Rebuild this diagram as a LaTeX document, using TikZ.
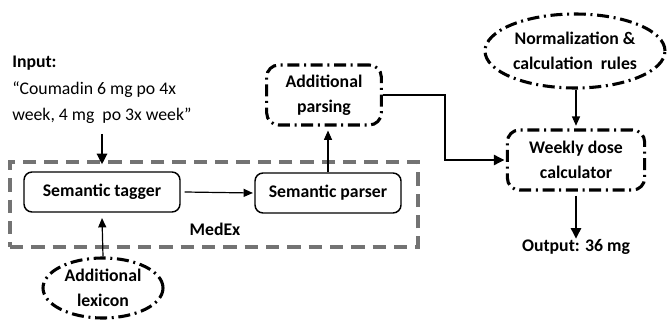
\documentclass[tikz,border=0pt]{standalone}
\usepackage{fontspec}
\setmainfont{Carlito}
\usetikzlibrary{arrows.meta,shapes.geometric}

\newcommand{\figfont}{\fontsize{13.3}{19}\selectfont}

\tikzset{
  box/.style={draw, rounded corners=6pt, line width=1.1pt, font=\figfont\bfseries},
  dotdash/.style={draw, line width=2.3pt, dash pattern=on 9pt off 3.5pt on 1.5pt off 3.5pt,
                  font=\figfont\bfseries, align=center},
  thinarrow/.style={line width=0.9pt, -{Triangle[length=7pt,width=6pt]}},
  fatarrow/.style={line width=1.9pt, -{Triangle[length=8pt,width=7.5pt]}}
}

\begin{document}
\begin{tikzpicture}[x=0.75pt, y=-0.75pt, font=\figfont]
\useasboundingbox (0,0) rectangle (667,324);

% input text
\node[anchor=north west, align=left, inner sep=0, font=\fontsize{13.3}{19.8}\selectfont] (input) at (12,56)
  {\textbf{Input:}\\“Coumadin 6 mg po 4x\\week, 4 mg\ \ po 3x week”};

% MedEx frame
\node[draw=black!55, line width=2.4pt, dash pattern=on 10pt off 6pt,
      minimum width=306pt, minimum height=63.75pt] (medex) at (214,204.5) {};
\node[font=\figfont\bfseries] (medexlbl) at (215,229) {MedEx};

% the two MedEx steps
\node[box, minimum width=117pt, minimum height=30pt] (tagger) at (102,192) {Semantic tagger};
\node[box, minimum width=109.5pt, minimum height=30pt] (parser) at (328,193) {Semantic parser};

% dash-dot boxes and ellipses
\node[dotdash, ellipse, minimum width=90pt, minimum height=45pt, inner sep=0] (lexicon) at (103,288) {Additional\\lexicon};
\node[dotdash, rounded corners=9pt, minimum width=86pt, minimum height=45pt] (parsing) at (324,95) {Additional\\parsing};
\node[dotdash, ellipse, minimum width=135pt, minimum height=55.5pt, inner sep=0] (rules) at (575,51) {Normalization \&\\calculation\ \ rules};
\node[dotdash, rounded corners=9pt, minimum width=103pt, minimum height=45pt] (weekly) at (576,160) {Weekly dose\\calculator};
\node[font=\figfont\bfseries] (output) at (576,247) {Output: 36 mg};

\coordinate (bend) at (445,0);

% connectors
\draw[fatarrow] (input.south -| tagger) ++(0,10) -- ([yshift=-3pt]medex.north -| tagger);
\draw[thinarrow] ([xshift=3pt]tagger.east) -- ([xshift=-1pt]parser.west);
\draw[thinarrow] (lexicon.north) -- ([yshift=-4pt]tagger.south);
\draw[thinarrow] (parser.north) -- ([yshift=-3pt]parser.north |- parsing.south);
\draw[fatarrow] (parsing.east) -- (parsing.east -| bend) |- ([xshift=-1pt]weekly.west);
\draw[thinarrow] (rules.south -| weekly) -- ([yshift=2pt]weekly.north);
\draw[fatarrow] ([yshift=-3pt]weekly.south) -- ([yshift=-3pt]output.north);
\end{tikzpicture}
\end{document}
